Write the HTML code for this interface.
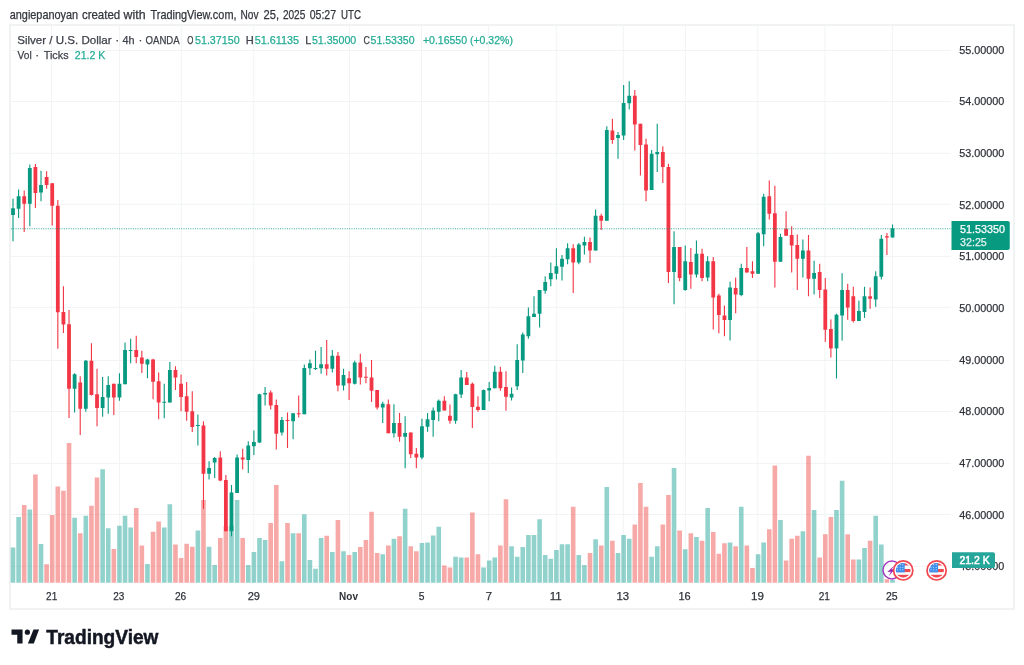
<!DOCTYPE html>
<html><head><meta charset="utf-8"><style>
html,body{margin:0;padding:0;background:#fff;}
body{width:1024px;height:665px;position:relative;overflow:hidden;font-family:"Liberation Sans", sans-serif;}
svg{position:absolute;left:0;top:0;will-change:transform;}
</style></head><body>
<svg width="1024" height="665" viewBox="0 0 1024 665">
<rect x="10" y="25" width="1004" height="584" fill="none" stroke="#f1f3f3" stroke-width="2"/>
<rect x="11" y="565.83" width="940" height="1" fill="#f1f3f4"/>
<rect x="11" y="514.00" width="940" height="1" fill="#f1f3f4"/>
<rect x="11" y="462.90" width="940" height="1" fill="#f1f3f4"/>
<rect x="11" y="411.02" width="940" height="1" fill="#f1f3f4"/>
<rect x="11" y="359.97" width="940" height="1" fill="#f1f3f4"/>
<rect x="11" y="306.90" width="940" height="1" fill="#f1f3f4"/>
<rect x="11" y="255.90" width="940" height="1" fill="#f1f3f4"/>
<rect x="11" y="203.80" width="940" height="1" fill="#f1f3f4"/>
<rect x="11" y="152.78" width="940" height="1" fill="#f1f3f4"/>
<rect x="11" y="100.94" width="940" height="1" fill="#f1f3f4"/>
<rect x="11" y="49.94" width="940" height="1" fill="#f1f3f4"/>
<rect x="51.0" y="26" width="1" height="557" fill="#f1f3f4"/>
<rect x="119.0" y="26" width="1" height="557" fill="#f1f3f4"/>
<rect x="180.8" y="26" width="1" height="557" fill="#f1f3f4"/>
<rect x="253.2" y="26" width="1" height="557" fill="#f1f3f4"/>
<rect x="349.0" y="26" width="1" height="557" fill="#f1f3f4"/>
<rect x="421.0" y="26" width="1" height="557" fill="#f1f3f4"/>
<rect x="488.1" y="26" width="1" height="557" fill="#f1f3f4"/>
<rect x="555.8" y="26" width="1" height="557" fill="#f1f3f4"/>
<rect x="622.8" y="26" width="1" height="557" fill="#f1f3f4"/>
<rect x="684.9" y="26" width="1" height="557" fill="#f1f3f4"/>
<rect x="757.3" y="26" width="1" height="557" fill="#f1f3f4"/>
<rect x="824.5" y="26" width="1" height="557" fill="#f1f3f4"/>
<rect x="891.9" y="26" width="1" height="557" fill="#f1f3f4"/>
<rect x="10.70" y="547.50" width="4.6" height="35.25" fill="rgba(38,166,154,0.5)"/>
<rect x="16.30" y="517.00" width="4.6" height="65.75" fill="rgba(38,166,154,0.5)"/>
<rect x="21.90" y="505.00" width="4.6" height="77.75" fill="rgba(239,83,80,0.5)"/>
<rect x="27.51" y="509.50" width="4.6" height="73.25" fill="rgba(38,166,154,0.5)"/>
<rect x="33.11" y="474.50" width="4.6" height="108.25" fill="rgba(239,83,80,0.5)"/>
<rect x="38.71" y="544.00" width="4.6" height="38.75" fill="rgba(38,166,154,0.5)"/>
<rect x="44.31" y="564.25" width="4.6" height="18.50" fill="rgba(239,83,80,0.5)"/>
<rect x="49.91" y="515.00" width="4.6" height="67.75" fill="rgba(239,83,80,0.5)"/>
<rect x="55.52" y="486.50" width="4.6" height="96.25" fill="rgba(239,83,80,0.5)"/>
<rect x="61.12" y="490.75" width="4.6" height="92.00" fill="rgba(239,83,80,0.5)"/>
<rect x="66.72" y="443.00" width="4.6" height="139.75" fill="rgba(239,83,80,0.5)"/>
<rect x="72.32" y="517.75" width="4.6" height="65.00" fill="rgba(38,166,154,0.5)"/>
<rect x="77.92" y="533.25" width="4.6" height="49.50" fill="rgba(239,83,80,0.5)"/>
<rect x="83.53" y="515.75" width="4.6" height="67.00" fill="rgba(38,166,154,0.5)"/>
<rect x="89.13" y="505.75" width="4.6" height="77.00" fill="rgba(239,83,80,0.5)"/>
<rect x="94.73" y="477.50" width="4.6" height="105.25" fill="rgba(239,83,80,0.5)"/>
<rect x="100.33" y="469.25" width="4.6" height="113.50" fill="rgba(38,166,154,0.5)"/>
<rect x="105.93" y="528.25" width="4.6" height="54.50" fill="rgba(38,166,154,0.5)"/>
<rect x="111.54" y="549.00" width="4.6" height="33.75" fill="rgba(239,83,80,0.5)"/>
<rect x="117.14" y="525.75" width="4.6" height="57.00" fill="rgba(38,166,154,0.5)"/>
<rect x="122.74" y="515.75" width="4.6" height="67.00" fill="rgba(38,166,154,0.5)"/>
<rect x="128.34" y="527.50" width="4.6" height="55.25" fill="rgba(38,166,154,0.5)"/>
<rect x="133.94" y="508.00" width="4.6" height="74.75" fill="rgba(239,83,80,0.5)"/>
<rect x="139.55" y="545.50" width="4.6" height="37.25" fill="rgba(239,83,80,0.5)"/>
<rect x="145.15" y="564.00" width="4.6" height="18.75" fill="rgba(38,166,154,0.5)"/>
<rect x="150.75" y="531.75" width="4.6" height="51.00" fill="rgba(239,83,80,0.5)"/>
<rect x="156.35" y="521.50" width="4.6" height="61.25" fill="rgba(239,83,80,0.5)"/>
<rect x="161.95" y="527.50" width="4.6" height="55.25" fill="rgba(38,166,154,0.5)"/>
<rect x="167.56" y="504.25" width="4.6" height="78.50" fill="rgba(38,166,154,0.5)"/>
<rect x="173.16" y="544.50" width="4.6" height="38.25" fill="rgba(239,83,80,0.5)"/>
<rect x="178.76" y="558.00" width="4.6" height="24.75" fill="rgba(239,83,80,0.5)"/>
<rect x="184.36" y="543.75" width="4.6" height="39.00" fill="rgba(239,83,80,0.5)"/>
<rect x="189.96" y="546.75" width="4.6" height="36.00" fill="rgba(239,83,80,0.5)"/>
<rect x="195.57" y="530.50" width="4.6" height="52.25" fill="rgba(38,166,154,0.5)"/>
<rect x="201.17" y="500.00" width="4.6" height="82.75" fill="rgba(239,83,80,0.5)"/>
<rect x="206.77" y="546.75" width="4.6" height="36.00" fill="rgba(38,166,154,0.5)"/>
<rect x="212.37" y="565.00" width="4.6" height="17.75" fill="rgba(38,166,154,0.5)"/>
<rect x="217.97" y="538.00" width="4.6" height="44.75" fill="rgba(239,83,80,0.5)"/>
<rect x="223.58" y="526.00" width="4.6" height="56.75" fill="rgba(239,83,80,0.5)"/>
<rect x="229.18" y="525.75" width="4.6" height="57.00" fill="rgba(38,166,154,0.5)"/>
<rect x="234.78" y="500.00" width="4.6" height="82.75" fill="rgba(38,166,154,0.5)"/>
<rect x="240.38" y="538.00" width="4.6" height="44.75" fill="rgba(239,83,80,0.5)"/>
<rect x="245.98" y="565.00" width="4.6" height="17.75" fill="rgba(38,166,154,0.5)"/>
<rect x="251.59" y="552.00" width="4.6" height="30.75" fill="rgba(38,166,154,0.5)"/>
<rect x="257.19" y="538.00" width="4.6" height="44.75" fill="rgba(38,166,154,0.5)"/>
<rect x="262.79" y="540.00" width="4.6" height="42.75" fill="rgba(38,166,154,0.5)"/>
<rect x="268.39" y="523.00" width="4.6" height="59.75" fill="rgba(239,83,80,0.5)"/>
<rect x="273.99" y="485.00" width="4.6" height="97.75" fill="rgba(239,83,80,0.5)"/>
<rect x="279.60" y="561.25" width="4.6" height="21.50" fill="rgba(38,166,154,0.5)"/>
<rect x="285.20" y="523.00" width="4.6" height="59.75" fill="rgba(239,83,80,0.5)"/>
<rect x="290.80" y="533.25" width="4.6" height="49.50" fill="rgba(38,166,154,0.5)"/>
<rect x="296.40" y="533.25" width="4.6" height="49.50" fill="rgba(239,83,80,0.5)"/>
<rect x="302.00" y="514.25" width="4.6" height="68.50" fill="rgba(38,166,154,0.5)"/>
<rect x="307.61" y="560.00" width="4.6" height="22.75" fill="rgba(38,166,154,0.5)"/>
<rect x="313.21" y="568.75" width="4.6" height="14.00" fill="rgba(38,166,154,0.5)"/>
<rect x="318.81" y="538.00" width="4.6" height="44.75" fill="rgba(38,166,154,0.5)"/>
<rect x="324.41" y="535.75" width="4.6" height="47.00" fill="rgba(239,83,80,0.5)"/>
<rect x="330.01" y="552.00" width="4.6" height="30.75" fill="rgba(38,166,154,0.5)"/>
<rect x="335.62" y="520.00" width="4.6" height="62.75" fill="rgba(239,83,80,0.5)"/>
<rect x="341.22" y="551.25" width="4.6" height="31.50" fill="rgba(38,166,154,0.5)"/>
<rect x="346.82" y="555.00" width="4.6" height="27.75" fill="rgba(239,83,80,0.5)"/>
<rect x="352.42" y="552.00" width="4.6" height="30.75" fill="rgba(38,166,154,0.5)"/>
<rect x="358.02" y="547.00" width="4.6" height="35.75" fill="rgba(239,83,80,0.5)"/>
<rect x="363.63" y="540.00" width="4.6" height="42.75" fill="rgba(239,83,80,0.5)"/>
<rect x="369.23" y="511.75" width="4.6" height="71.00" fill="rgba(239,83,80,0.5)"/>
<rect x="374.83" y="553.00" width="4.6" height="29.75" fill="rgba(239,83,80,0.5)"/>
<rect x="380.43" y="554.25" width="4.6" height="28.50" fill="rgba(38,166,154,0.5)"/>
<rect x="386.03" y="545.50" width="4.6" height="37.25" fill="rgba(239,83,80,0.5)"/>
<rect x="391.64" y="538.75" width="4.6" height="44.00" fill="rgba(38,166,154,0.5)"/>
<rect x="397.24" y="536.25" width="4.6" height="46.50" fill="rgba(239,83,80,0.5)"/>
<rect x="402.84" y="508.75" width="4.6" height="74.00" fill="rgba(38,166,154,0.5)"/>
<rect x="408.44" y="546.25" width="4.6" height="36.50" fill="rgba(239,83,80,0.5)"/>
<rect x="414.04" y="551.25" width="4.6" height="31.50" fill="rgba(239,83,80,0.5)"/>
<rect x="419.65" y="543.00" width="4.6" height="39.75" fill="rgba(38,166,154,0.5)"/>
<rect x="425.25" y="542.50" width="4.6" height="40.25" fill="rgba(38,166,154,0.5)"/>
<rect x="430.85" y="535.50" width="4.6" height="47.25" fill="rgba(38,166,154,0.5)"/>
<rect x="436.45" y="526.75" width="4.6" height="56.00" fill="rgba(38,166,154,0.5)"/>
<rect x="442.05" y="565.50" width="4.6" height="17.25" fill="rgba(239,83,80,0.5)"/>
<rect x="447.66" y="567.50" width="4.6" height="15.25" fill="rgba(239,83,80,0.5)"/>
<rect x="453.26" y="556.75" width="4.6" height="26.00" fill="rgba(38,166,154,0.5)"/>
<rect x="458.86" y="557.50" width="4.6" height="25.25" fill="rgba(38,166,154,0.5)"/>
<rect x="464.46" y="557.50" width="4.6" height="25.25" fill="rgba(239,83,80,0.5)"/>
<rect x="470.06" y="512.50" width="4.6" height="70.25" fill="rgba(239,83,80,0.5)"/>
<rect x="475.67" y="554.25" width="4.6" height="28.50" fill="rgba(239,83,80,0.5)"/>
<rect x="481.27" y="567.50" width="4.6" height="15.25" fill="rgba(38,166,154,0.5)"/>
<rect x="486.87" y="560.50" width="4.6" height="22.25" fill="rgba(38,166,154,0.5)"/>
<rect x="492.47" y="557.50" width="4.6" height="25.25" fill="rgba(38,166,154,0.5)"/>
<rect x="498.07" y="545.50" width="4.6" height="37.25" fill="rgba(239,83,80,0.5)"/>
<rect x="503.68" y="499.25" width="4.6" height="83.50" fill="rgba(239,83,80,0.5)"/>
<rect x="509.28" y="546.25" width="4.6" height="36.50" fill="rgba(38,166,154,0.5)"/>
<rect x="514.88" y="556.75" width="4.6" height="26.00" fill="rgba(38,166,154,0.5)"/>
<rect x="520.48" y="547.00" width="4.6" height="35.75" fill="rgba(38,166,154,0.5)"/>
<rect x="526.08" y="535.00" width="4.6" height="47.75" fill="rgba(38,166,154,0.5)"/>
<rect x="531.69" y="535.00" width="4.6" height="47.75" fill="rgba(38,166,154,0.5)"/>
<rect x="537.29" y="519.25" width="4.6" height="63.50" fill="rgba(38,166,154,0.5)"/>
<rect x="542.89" y="555.00" width="4.6" height="27.75" fill="rgba(38,166,154,0.5)"/>
<rect x="548.49" y="558.75" width="4.6" height="24.00" fill="rgba(38,166,154,0.5)"/>
<rect x="554.09" y="550.00" width="4.6" height="32.75" fill="rgba(38,166,154,0.5)"/>
<rect x="559.70" y="544.25" width="4.6" height="38.50" fill="rgba(38,166,154,0.5)"/>
<rect x="565.30" y="544.25" width="4.6" height="38.50" fill="rgba(38,166,154,0.5)"/>
<rect x="570.90" y="506.75" width="4.6" height="76.00" fill="rgba(239,83,80,0.5)"/>
<rect x="576.50" y="555.00" width="4.6" height="27.75" fill="rgba(38,166,154,0.5)"/>
<rect x="582.10" y="565.00" width="4.6" height="17.75" fill="rgba(38,166,154,0.5)"/>
<rect x="587.71" y="553.00" width="4.6" height="29.75" fill="rgba(239,83,80,0.5)"/>
<rect x="593.31" y="539.25" width="4.6" height="43.50" fill="rgba(38,166,154,0.5)"/>
<rect x="598.91" y="545.50" width="4.6" height="37.25" fill="rgba(239,83,80,0.5)"/>
<rect x="604.51" y="487.00" width="4.6" height="95.75" fill="rgba(38,166,154,0.5)"/>
<rect x="610.11" y="540.75" width="4.6" height="42.00" fill="rgba(239,83,80,0.5)"/>
<rect x="615.72" y="553.00" width="4.6" height="29.75" fill="rgba(38,166,154,0.5)"/>
<rect x="621.32" y="535.00" width="4.6" height="47.75" fill="rgba(38,166,154,0.5)"/>
<rect x="626.92" y="538.75" width="4.6" height="44.00" fill="rgba(38,166,154,0.5)"/>
<rect x="632.52" y="524.50" width="4.6" height="58.25" fill="rgba(239,83,80,0.5)"/>
<rect x="638.12" y="483.00" width="4.6" height="99.75" fill="rgba(239,83,80,0.5)"/>
<rect x="643.73" y="506.75" width="4.6" height="76.00" fill="rgba(239,83,80,0.5)"/>
<rect x="649.33" y="556.75" width="4.6" height="26.00" fill="rgba(38,166,154,0.5)"/>
<rect x="654.93" y="546.25" width="4.6" height="36.50" fill="rgba(38,166,154,0.5)"/>
<rect x="660.53" y="524.50" width="4.6" height="58.25" fill="rgba(239,83,80,0.5)"/>
<rect x="666.13" y="495.00" width="4.6" height="87.75" fill="rgba(239,83,80,0.5)"/>
<rect x="671.74" y="468.00" width="4.6" height="114.75" fill="rgba(38,166,154,0.5)"/>
<rect x="677.34" y="530.50" width="4.6" height="52.25" fill="rgba(239,83,80,0.5)"/>
<rect x="682.94" y="549.25" width="4.6" height="33.50" fill="rgba(38,166,154,0.5)"/>
<rect x="688.54" y="533.25" width="4.6" height="49.50" fill="rgba(239,83,80,0.5)"/>
<rect x="694.14" y="537.00" width="4.6" height="45.75" fill="rgba(38,166,154,0.5)"/>
<rect x="699.75" y="540.75" width="4.6" height="42.00" fill="rgba(239,83,80,0.5)"/>
<rect x="705.35" y="508.00" width="4.6" height="74.75" fill="rgba(38,166,154,0.5)"/>
<rect x="710.95" y="532.00" width="4.6" height="50.75" fill="rgba(239,83,80,0.5)"/>
<rect x="716.55" y="553.75" width="4.6" height="29.00" fill="rgba(239,83,80,0.5)"/>
<rect x="722.15" y="543.25" width="4.6" height="39.50" fill="rgba(239,83,80,0.5)"/>
<rect x="727.76" y="542.50" width="4.6" height="40.25" fill="rgba(38,166,154,0.5)"/>
<rect x="733.36" y="546.25" width="4.6" height="36.50" fill="rgba(239,83,80,0.5)"/>
<rect x="738.96" y="506.75" width="4.6" height="76.00" fill="rgba(38,166,154,0.5)"/>
<rect x="744.56" y="545.50" width="4.6" height="37.25" fill="rgba(239,83,80,0.5)"/>
<rect x="750.16" y="568.00" width="4.6" height="14.75" fill="rgba(239,83,80,0.5)"/>
<rect x="755.77" y="554.25" width="4.6" height="28.50" fill="rgba(38,166,154,0.5)"/>
<rect x="761.37" y="542.50" width="4.6" height="40.25" fill="rgba(38,166,154,0.5)"/>
<rect x="766.97" y="529.25" width="4.6" height="53.50" fill="rgba(239,83,80,0.5)"/>
<rect x="772.57" y="465.50" width="4.6" height="117.25" fill="rgba(239,83,80,0.5)"/>
<rect x="778.17" y="520.00" width="4.6" height="62.75" fill="rgba(38,166,154,0.5)"/>
<rect x="783.78" y="560.50" width="4.6" height="22.25" fill="rgba(239,83,80,0.5)"/>
<rect x="789.38" y="538.75" width="4.6" height="44.00" fill="rgba(239,83,80,0.5)"/>
<rect x="794.98" y="535.75" width="4.6" height="47.00" fill="rgba(239,83,80,0.5)"/>
<rect x="800.58" y="531.25" width="4.6" height="51.50" fill="rgba(38,166,154,0.5)"/>
<rect x="806.18" y="455.75" width="4.6" height="127.00" fill="rgba(239,83,80,0.5)"/>
<rect x="811.79" y="510.00" width="4.6" height="72.75" fill="rgba(38,166,154,0.5)"/>
<rect x="817.39" y="557.50" width="4.6" height="25.25" fill="rgba(239,83,80,0.5)"/>
<rect x="822.99" y="534.25" width="4.6" height="48.50" fill="rgba(239,83,80,0.5)"/>
<rect x="828.59" y="517.00" width="4.6" height="65.75" fill="rgba(239,83,80,0.5)"/>
<rect x="834.19" y="510.00" width="4.6" height="72.75" fill="rgba(38,166,154,0.5)"/>
<rect x="839.80" y="480.75" width="4.6" height="102.00" fill="rgba(38,166,154,0.5)"/>
<rect x="845.40" y="534.25" width="4.6" height="48.50" fill="rgba(239,83,80,0.5)"/>
<rect x="851.00" y="559.50" width="4.6" height="23.25" fill="rgba(239,83,80,0.5)"/>
<rect x="856.60" y="559.50" width="4.6" height="23.25" fill="rgba(38,166,154,0.5)"/>
<rect x="862.20" y="548.00" width="4.6" height="34.75" fill="rgba(38,166,154,0.5)"/>
<rect x="867.81" y="540.75" width="4.6" height="42.00" fill="rgba(239,83,80,0.5)"/>
<rect x="873.41" y="515.75" width="4.6" height="67.00" fill="rgba(38,166,154,0.5)"/>
<rect x="879.01" y="544.50" width="4.6" height="38.25" fill="rgba(38,166,154,0.5)"/>
<rect x="884.61" y="579.25" width="4.6" height="3.50" fill="rgba(239,83,80,0.5)"/>
<rect x="890.21" y="580.00" width="4.6" height="2.75" fill="rgba(38,166,154,0.5)"/>
<rect x="12.45" y="198.75" width="1.1" height="42.50" fill="#089981"/>
<rect x="11.10" y="208.25" width="3.8" height="6.75" fill="#089981"/>
<rect x="18.05" y="189.50" width="1.1" height="28.50" fill="#089981"/>
<rect x="16.70" y="196.25" width="3.8" height="12.50" fill="#089981"/>
<rect x="23.65" y="190.50" width="1.1" height="41.50" fill="#f23645"/>
<rect x="22.30" y="196.25" width="3.8" height="7.50" fill="#f23645"/>
<rect x="29.26" y="164.50" width="1.1" height="61.75" fill="#089981"/>
<rect x="27.91" y="168.00" width="3.8" height="35.75" fill="#089981"/>
<rect x="34.86" y="164.00" width="1.1" height="44.00" fill="#f23645"/>
<rect x="33.51" y="167.00" width="3.8" height="26.00" fill="#f23645"/>
<rect x="40.46" y="170.75" width="1.1" height="30.50" fill="#089981"/>
<rect x="39.11" y="185.00" width="3.8" height="7.50" fill="#089981"/>
<rect x="46.06" y="171.25" width="1.1" height="17.50" fill="#f23645"/>
<rect x="44.71" y="177.00" width="3.8" height="8.00" fill="#f23645"/>
<rect x="51.66" y="183.25" width="1.1" height="42.25" fill="#f23645"/>
<rect x="50.31" y="183.25" width="3.8" height="22.50" fill="#f23645"/>
<rect x="57.27" y="200.00" width="1.1" height="148.75" fill="#f23645"/>
<rect x="55.92" y="205.75" width="3.8" height="106.50" fill="#f23645"/>
<rect x="62.87" y="286.25" width="1.1" height="46.75" fill="#f23645"/>
<rect x="61.52" y="312.00" width="3.8" height="12.50" fill="#f23645"/>
<rect x="68.47" y="310.00" width="1.1" height="108.00" fill="#f23645"/>
<rect x="67.12" y="324.25" width="3.8" height="64.50" fill="#f23645"/>
<rect x="74.07" y="373.25" width="1.1" height="39.25" fill="#089981"/>
<rect x="72.72" y="374.25" width="3.8" height="14.50" fill="#089981"/>
<rect x="79.67" y="376.25" width="1.1" height="58.75" fill="#f23645"/>
<rect x="78.32" y="382.50" width="3.8" height="26.25" fill="#f23645"/>
<rect x="85.28" y="360.00" width="1.1" height="51.75" fill="#089981"/>
<rect x="83.93" y="360.75" width="3.8" height="48.00" fill="#089981"/>
<rect x="90.88" y="343.25" width="1.1" height="52.25" fill="#f23645"/>
<rect x="89.53" y="360.75" width="3.8" height="34.25" fill="#f23645"/>
<rect x="96.48" y="368.75" width="1.1" height="57.50" fill="#f23645"/>
<rect x="95.13" y="394.25" width="3.8" height="13.75" fill="#f23645"/>
<rect x="102.08" y="377.00" width="1.1" height="39.75" fill="#089981"/>
<rect x="100.73" y="397.00" width="3.8" height="11.00" fill="#089981"/>
<rect x="107.68" y="376.25" width="1.1" height="37.50" fill="#089981"/>
<rect x="106.33" y="385.00" width="3.8" height="12.50" fill="#089981"/>
<rect x="113.29" y="383.75" width="1.1" height="31.25" fill="#f23645"/>
<rect x="111.94" y="383.75" width="3.8" height="13.75" fill="#f23645"/>
<rect x="118.89" y="373.25" width="1.1" height="27.50" fill="#089981"/>
<rect x="117.54" y="383.75" width="3.8" height="13.75" fill="#089981"/>
<rect x="124.49" y="342.50" width="1.1" height="41.75" fill="#089981"/>
<rect x="123.14" y="350.00" width="3.8" height="34.25" fill="#089981"/>
<rect x="130.09" y="338.75" width="1.1" height="24.50" fill="#089981"/>
<rect x="128.74" y="350.00" width="3.8" height="1.00" fill="#089981"/>
<rect x="135.69" y="335.75" width="1.1" height="27.50" fill="#f23645"/>
<rect x="134.34" y="350.00" width="3.8" height="7.00" fill="#f23645"/>
<rect x="141.30" y="350.75" width="1.1" height="22.25" fill="#f23645"/>
<rect x="139.95" y="357.50" width="3.8" height="6.25" fill="#f23645"/>
<rect x="146.90" y="358.75" width="1.1" height="19.50" fill="#089981"/>
<rect x="145.55" y="359.50" width="3.8" height="5.00" fill="#089981"/>
<rect x="152.50" y="358.75" width="1.1" height="40.50" fill="#f23645"/>
<rect x="151.15" y="359.50" width="3.8" height="22.25" fill="#f23645"/>
<rect x="158.10" y="372.50" width="1.1" height="46.75" fill="#f23645"/>
<rect x="156.75" y="381.25" width="3.8" height="21.25" fill="#f23645"/>
<rect x="163.70" y="383.75" width="1.1" height="34.50" fill="#089981"/>
<rect x="162.35" y="401.75" width="3.8" height="1.00" fill="#089981"/>
<rect x="169.31" y="362.00" width="1.1" height="40.50" fill="#089981"/>
<rect x="167.96" y="370.00" width="3.8" height="32.50" fill="#089981"/>
<rect x="174.91" y="366.25" width="1.1" height="23.75" fill="#f23645"/>
<rect x="173.56" y="370.00" width="3.8" height="7.50" fill="#f23645"/>
<rect x="180.51" y="374.50" width="1.1" height="36.75" fill="#f23645"/>
<rect x="179.16" y="383.75" width="3.8" height="13.25" fill="#f23645"/>
<rect x="186.11" y="382.00" width="1.1" height="38.75" fill="#f23645"/>
<rect x="184.76" y="396.25" width="3.8" height="15.50" fill="#f23645"/>
<rect x="191.71" y="391.25" width="1.1" height="40.75" fill="#f23645"/>
<rect x="190.36" y="411.25" width="3.8" height="15.75" fill="#f23645"/>
<rect x="197.32" y="414.50" width="1.1" height="31.00" fill="#089981"/>
<rect x="195.97" y="425.00" width="3.8" height="1.00" fill="#089981"/>
<rect x="202.92" y="421.25" width="1.1" height="87.50" fill="#f23645"/>
<rect x="201.57" y="425.50" width="3.8" height="48.25" fill="#f23645"/>
<rect x="208.52" y="461.25" width="1.1" height="18.25" fill="#089981"/>
<rect x="207.17" y="468.00" width="3.8" height="5.75" fill="#089981"/>
<rect x="214.12" y="457.00" width="1.1" height="21.00" fill="#089981"/>
<rect x="212.77" y="458.00" width="3.8" height="4.50" fill="#089981"/>
<rect x="219.72" y="451.25" width="1.1" height="30.00" fill="#f23645"/>
<rect x="218.37" y="457.50" width="3.8" height="23.00" fill="#f23645"/>
<rect x="225.33" y="475.00" width="1.1" height="56.25" fill="#f23645"/>
<rect x="223.98" y="480.00" width="3.8" height="51.25" fill="#f23645"/>
<rect x="230.93" y="485.00" width="1.1" height="51.25" fill="#089981"/>
<rect x="229.58" y="492.50" width="3.8" height="38.75" fill="#089981"/>
<rect x="236.53" y="454.50" width="1.1" height="38.50" fill="#089981"/>
<rect x="235.18" y="457.50" width="3.8" height="35.50" fill="#089981"/>
<rect x="242.13" y="448.75" width="1.1" height="20.75" fill="#f23645"/>
<rect x="240.78" y="457.50" width="3.8" height="2.00" fill="#f23645"/>
<rect x="247.73" y="441.25" width="1.1" height="31.75" fill="#089981"/>
<rect x="246.38" y="445.50" width="3.8" height="14.50" fill="#089981"/>
<rect x="253.34" y="430.50" width="1.1" height="24.50" fill="#089981"/>
<rect x="251.99" y="442.00" width="3.8" height="4.25" fill="#089981"/>
<rect x="258.94" y="393.75" width="1.1" height="49.25" fill="#089981"/>
<rect x="257.59" y="394.25" width="3.8" height="48.25" fill="#089981"/>
<rect x="264.54" y="387.00" width="1.1" height="18.50" fill="#089981"/>
<rect x="263.19" y="393.00" width="3.8" height="1.50" fill="#089981"/>
<rect x="270.14" y="390.50" width="1.1" height="19.00" fill="#f23645"/>
<rect x="268.79" y="392.50" width="3.8" height="13.00" fill="#f23645"/>
<rect x="275.74" y="399.50" width="1.1" height="50.00" fill="#f23645"/>
<rect x="274.39" y="405.00" width="3.8" height="28.75" fill="#f23645"/>
<rect x="281.35" y="417.00" width="1.1" height="18.50" fill="#089981"/>
<rect x="280.00" y="420.00" width="3.8" height="12.50" fill="#089981"/>
<rect x="286.95" y="412.50" width="1.1" height="35.50" fill="#f23645"/>
<rect x="285.60" y="420.00" width="3.8" height="1.00" fill="#f23645"/>
<rect x="292.55" y="413.25" width="1.1" height="26.00" fill="#089981"/>
<rect x="291.20" y="413.25" width="3.8" height="8.00" fill="#089981"/>
<rect x="298.15" y="395.50" width="1.1" height="22.00" fill="#f23645"/>
<rect x="296.80" y="413.25" width="3.8" height="1.00" fill="#f23645"/>
<rect x="303.75" y="364.50" width="1.1" height="49.75" fill="#089981"/>
<rect x="302.40" y="368.00" width="3.8" height="46.25" fill="#089981"/>
<rect x="309.36" y="359.50" width="1.1" height="15.50" fill="#089981"/>
<rect x="308.01" y="363.25" width="3.8" height="5.00" fill="#089981"/>
<rect x="314.96" y="350.75" width="1.1" height="19.25" fill="#089981"/>
<rect x="313.61" y="368.00" width="3.8" height="1.00" fill="#089981"/>
<rect x="320.56" y="347.00" width="1.1" height="26.75" fill="#089981"/>
<rect x="319.21" y="364.25" width="3.8" height="4.00" fill="#089981"/>
<rect x="326.16" y="340.00" width="1.1" height="35.50" fill="#f23645"/>
<rect x="324.81" y="364.25" width="3.8" height="4.50" fill="#f23645"/>
<rect x="331.76" y="350.00" width="1.1" height="22.50" fill="#089981"/>
<rect x="330.41" y="355.75" width="3.8" height="13.00" fill="#089981"/>
<rect x="337.37" y="352.00" width="1.1" height="39.25" fill="#f23645"/>
<rect x="336.02" y="355.75" width="3.8" height="29.75" fill="#f23645"/>
<rect x="342.97" y="368.75" width="1.1" height="21.75" fill="#089981"/>
<rect x="341.62" y="375.00" width="3.8" height="10.50" fill="#089981"/>
<rect x="348.57" y="371.25" width="1.1" height="28.75" fill="#f23645"/>
<rect x="347.22" y="378.25" width="3.8" height="5.00" fill="#f23645"/>
<rect x="354.17" y="360.75" width="1.1" height="23.75" fill="#089981"/>
<rect x="352.82" y="362.50" width="3.8" height="21.25" fill="#089981"/>
<rect x="359.77" y="353.75" width="1.1" height="30.75" fill="#f23645"/>
<rect x="358.42" y="362.50" width="3.8" height="15.00" fill="#f23645"/>
<rect x="365.38" y="367.00" width="1.1" height="16.25" fill="#f23645"/>
<rect x="364.03" y="376.75" width="3.8" height="1.00" fill="#f23645"/>
<rect x="370.98" y="360.00" width="1.1" height="42.00" fill="#f23645"/>
<rect x="369.63" y="377.50" width="3.8" height="13.25" fill="#f23645"/>
<rect x="376.58" y="390.00" width="1.1" height="19.50" fill="#f23645"/>
<rect x="375.23" y="390.00" width="3.8" height="17.50" fill="#f23645"/>
<rect x="382.18" y="401.75" width="1.1" height="21.25" fill="#089981"/>
<rect x="380.83" y="403.75" width="3.8" height="3.75" fill="#089981"/>
<rect x="387.78" y="399.50" width="1.1" height="33.75" fill="#f23645"/>
<rect x="386.43" y="404.25" width="3.8" height="29.00" fill="#f23645"/>
<rect x="393.39" y="404.25" width="1.1" height="33.25" fill="#089981"/>
<rect x="392.04" y="423.00" width="3.8" height="10.25" fill="#089981"/>
<rect x="398.99" y="413.00" width="1.1" height="28.75" fill="#f23645"/>
<rect x="397.64" y="423.00" width="3.8" height="13.75" fill="#f23645"/>
<rect x="404.59" y="416.25" width="1.1" height="52.00" fill="#089981"/>
<rect x="403.24" y="433.00" width="3.8" height="3.75" fill="#089981"/>
<rect x="410.19" y="432.50" width="1.1" height="25.50" fill="#f23645"/>
<rect x="408.84" y="432.50" width="3.8" height="21.75" fill="#f23645"/>
<rect x="415.79" y="448.00" width="1.1" height="20.25" fill="#f23645"/>
<rect x="414.44" y="453.75" width="3.8" height="3.75" fill="#f23645"/>
<rect x="421.40" y="418.75" width="1.1" height="40.50" fill="#089981"/>
<rect x="420.05" y="426.25" width="3.8" height="31.25" fill="#089981"/>
<rect x="427.00" y="413.00" width="1.1" height="18.75" fill="#089981"/>
<rect x="425.65" y="419.25" width="3.8" height="7.50" fill="#089981"/>
<rect x="432.60" y="407.50" width="1.1" height="29.25" fill="#089981"/>
<rect x="431.25" y="410.50" width="3.8" height="9.50" fill="#089981"/>
<rect x="438.20" y="399.50" width="1.1" height="21.75" fill="#089981"/>
<rect x="436.85" y="400.75" width="3.8" height="11.00" fill="#089981"/>
<rect x="443.80" y="396.25" width="1.1" height="14.25" fill="#f23645"/>
<rect x="442.45" y="400.75" width="3.8" height="9.75" fill="#f23645"/>
<rect x="449.41" y="404.50" width="1.1" height="19.25" fill="#f23645"/>
<rect x="448.06" y="415.75" width="3.8" height="5.00" fill="#f23645"/>
<rect x="455.01" y="393.75" width="1.1" height="30.00" fill="#089981"/>
<rect x="453.66" y="394.25" width="3.8" height="26.50" fill="#089981"/>
<rect x="460.61" y="370.00" width="1.1" height="28.00" fill="#089981"/>
<rect x="459.26" y="377.50" width="3.8" height="17.00" fill="#089981"/>
<rect x="466.21" y="372.00" width="1.1" height="13.00" fill="#f23645"/>
<rect x="464.86" y="377.50" width="3.8" height="7.50" fill="#f23645"/>
<rect x="471.81" y="382.50" width="1.1" height="45.50" fill="#f23645"/>
<rect x="470.46" y="383.75" width="3.8" height="23.25" fill="#f23645"/>
<rect x="477.42" y="396.25" width="1.1" height="15.50" fill="#f23645"/>
<rect x="476.07" y="406.75" width="3.8" height="3.25" fill="#f23645"/>
<rect x="483.02" y="389.50" width="1.1" height="20.50" fill="#089981"/>
<rect x="481.67" y="390.00" width="3.8" height="20.00" fill="#089981"/>
<rect x="488.62" y="382.00" width="1.1" height="19.25" fill="#089981"/>
<rect x="487.27" y="388.00" width="3.8" height="2.50" fill="#089981"/>
<rect x="494.22" y="365.75" width="1.1" height="22.50" fill="#089981"/>
<rect x="492.87" y="371.75" width="3.8" height="16.50" fill="#089981"/>
<rect x="499.82" y="366.75" width="1.1" height="24.00" fill="#f23645"/>
<rect x="498.47" y="371.75" width="3.8" height="16.50" fill="#f23645"/>
<rect x="505.43" y="371.25" width="1.1" height="39.50" fill="#f23645"/>
<rect x="504.08" y="387.00" width="3.8" height="9.75" fill="#f23645"/>
<rect x="511.03" y="387.50" width="1.1" height="13.00" fill="#089981"/>
<rect x="509.68" y="393.75" width="3.8" height="3.75" fill="#089981"/>
<rect x="516.63" y="344.25" width="1.1" height="45.75" fill="#089981"/>
<rect x="515.28" y="360.00" width="3.8" height="26.25" fill="#089981"/>
<rect x="522.23" y="332.50" width="1.1" height="40.50" fill="#089981"/>
<rect x="520.88" y="334.50" width="3.8" height="26.00" fill="#089981"/>
<rect x="527.83" y="307.50" width="1.1" height="31.25" fill="#089981"/>
<rect x="526.48" y="316.25" width="3.8" height="20.00" fill="#089981"/>
<rect x="533.44" y="296.25" width="1.1" height="20.75" fill="#089981"/>
<rect x="532.09" y="313.75" width="3.8" height="3.25" fill="#089981"/>
<rect x="539.04" y="290.00" width="1.1" height="37.50" fill="#089981"/>
<rect x="537.69" y="290.00" width="3.8" height="23.75" fill="#089981"/>
<rect x="544.64" y="276.25" width="1.1" height="17.50" fill="#089981"/>
<rect x="543.29" y="282.00" width="3.8" height="8.75" fill="#089981"/>
<rect x="550.24" y="262.50" width="1.1" height="23.75" fill="#089981"/>
<rect x="548.89" y="273.00" width="3.8" height="6.25" fill="#089981"/>
<rect x="555.84" y="248.25" width="1.1" height="31.25" fill="#089981"/>
<rect x="554.49" y="266.25" width="3.8" height="7.50" fill="#089981"/>
<rect x="561.45" y="255.00" width="1.1" height="25.50" fill="#089981"/>
<rect x="560.10" y="258.75" width="3.8" height="8.00" fill="#089981"/>
<rect x="567.05" y="243.25" width="1.1" height="21.00" fill="#089981"/>
<rect x="565.70" y="248.25" width="3.8" height="11.00" fill="#089981"/>
<rect x="572.65" y="244.25" width="1.1" height="48.75" fill="#f23645"/>
<rect x="571.30" y="248.25" width="3.8" height="14.25" fill="#f23645"/>
<rect x="578.25" y="243.00" width="1.1" height="21.25" fill="#089981"/>
<rect x="576.90" y="244.50" width="3.8" height="18.00" fill="#089981"/>
<rect x="583.85" y="236.75" width="1.1" height="17.75" fill="#089981"/>
<rect x="582.50" y="242.00" width="3.8" height="3.50" fill="#089981"/>
<rect x="589.46" y="237.50" width="1.1" height="25.50" fill="#f23645"/>
<rect x="588.11" y="242.00" width="3.8" height="8.50" fill="#f23645"/>
<rect x="595.06" y="209.50" width="1.1" height="41.00" fill="#089981"/>
<rect x="593.71" y="215.75" width="3.8" height="34.75" fill="#089981"/>
<rect x="600.66" y="213.75" width="1.1" height="16.25" fill="#f23645"/>
<rect x="599.31" y="215.75" width="3.8" height="5.00" fill="#f23645"/>
<rect x="606.26" y="126.25" width="1.1" height="94.50" fill="#089981"/>
<rect x="604.91" y="130.00" width="3.8" height="90.75" fill="#089981"/>
<rect x="611.86" y="118.75" width="1.1" height="25.00" fill="#f23645"/>
<rect x="610.51" y="130.50" width="3.8" height="9.50" fill="#f23645"/>
<rect x="617.47" y="132.00" width="1.1" height="26.75" fill="#089981"/>
<rect x="616.12" y="135.00" width="3.8" height="3.00" fill="#089981"/>
<rect x="623.07" y="85.00" width="1.1" height="55.00" fill="#089981"/>
<rect x="621.72" y="103.00" width="3.8" height="32.50" fill="#089981"/>
<rect x="628.67" y="81.25" width="1.1" height="28.25" fill="#089981"/>
<rect x="627.32" y="95.75" width="3.8" height="7.50" fill="#089981"/>
<rect x="634.27" y="90.00" width="1.1" height="60.50" fill="#f23645"/>
<rect x="632.92" y="95.75" width="3.8" height="28.75" fill="#f23645"/>
<rect x="639.87" y="123.75" width="1.1" height="51.75" fill="#f23645"/>
<rect x="638.52" y="123.75" width="3.8" height="21.25" fill="#f23645"/>
<rect x="645.48" y="138.75" width="1.1" height="62.50" fill="#f23645"/>
<rect x="644.13" y="144.50" width="3.8" height="46.00" fill="#f23645"/>
<rect x="651.08" y="150.00" width="1.1" height="40.00" fill="#089981"/>
<rect x="649.73" y="153.75" width="3.8" height="36.25" fill="#089981"/>
<rect x="656.68" y="123.75" width="1.1" height="48.25" fill="#089981"/>
<rect x="655.33" y="152.00" width="3.8" height="2.25" fill="#089981"/>
<rect x="662.28" y="146.25" width="1.1" height="36.75" fill="#f23645"/>
<rect x="660.93" y="152.00" width="3.8" height="15.00" fill="#f23645"/>
<rect x="667.88" y="163.75" width="1.1" height="119.25" fill="#f23645"/>
<rect x="666.53" y="167.00" width="3.8" height="105.00" fill="#f23645"/>
<rect x="673.49" y="231.25" width="1.1" height="73.00" fill="#089981"/>
<rect x="672.14" y="247.00" width="3.8" height="25.00" fill="#089981"/>
<rect x="679.09" y="247.00" width="1.1" height="34.25" fill="#f23645"/>
<rect x="677.74" y="247.00" width="3.8" height="31.00" fill="#f23645"/>
<rect x="684.69" y="245.50" width="1.1" height="45.25" fill="#089981"/>
<rect x="683.34" y="261.25" width="3.8" height="28.75" fill="#089981"/>
<rect x="690.29" y="248.00" width="1.1" height="40.75" fill="#f23645"/>
<rect x="688.94" y="262.00" width="3.8" height="12.50" fill="#f23645"/>
<rect x="695.89" y="240.50" width="1.1" height="37.00" fill="#089981"/>
<rect x="694.54" y="253.75" width="3.8" height="20.75" fill="#089981"/>
<rect x="701.50" y="248.75" width="1.1" height="32.50" fill="#f23645"/>
<rect x="700.15" y="253.75" width="3.8" height="24.25" fill="#f23645"/>
<rect x="707.10" y="256.25" width="1.1" height="25.00" fill="#089981"/>
<rect x="705.75" y="261.25" width="3.8" height="16.25" fill="#089981"/>
<rect x="712.70" y="257.00" width="1.1" height="72.50" fill="#f23645"/>
<rect x="711.35" y="261.25" width="3.8" height="36.25" fill="#f23645"/>
<rect x="718.30" y="293.75" width="1.1" height="39.50" fill="#f23645"/>
<rect x="716.95" y="295.50" width="3.8" height="19.50" fill="#f23645"/>
<rect x="723.90" y="305.50" width="1.1" height="30.75" fill="#f23645"/>
<rect x="722.55" y="315.50" width="3.8" height="4.50" fill="#f23645"/>
<rect x="729.51" y="281.75" width="1.1" height="58.75" fill="#089981"/>
<rect x="728.16" y="287.50" width="3.8" height="32.50" fill="#089981"/>
<rect x="735.11" y="277.50" width="1.1" height="35.75" fill="#f23645"/>
<rect x="733.76" y="288.00" width="3.8" height="6.50" fill="#f23645"/>
<rect x="740.71" y="263.75" width="1.1" height="32.50" fill="#089981"/>
<rect x="739.36" y="268.00" width="3.8" height="27.00" fill="#089981"/>
<rect x="746.31" y="247.00" width="1.1" height="25.50" fill="#f23645"/>
<rect x="744.96" y="268.00" width="3.8" height="4.50" fill="#f23645"/>
<rect x="751.91" y="261.25" width="1.1" height="16.75" fill="#f23645"/>
<rect x="750.56" y="271.25" width="3.8" height="2.50" fill="#f23645"/>
<rect x="757.52" y="232.00" width="1.1" height="41.75" fill="#089981"/>
<rect x="756.17" y="233.25" width="3.8" height="40.50" fill="#089981"/>
<rect x="763.12" y="193.75" width="1.1" height="52.50" fill="#089981"/>
<rect x="761.77" y="196.75" width="3.8" height="37.50" fill="#089981"/>
<rect x="768.72" y="180.50" width="1.1" height="39.00" fill="#f23645"/>
<rect x="767.37" y="196.25" width="3.8" height="17.50" fill="#f23645"/>
<rect x="774.32" y="185.75" width="1.1" height="101.75" fill="#f23645"/>
<rect x="772.97" y="213.25" width="3.8" height="48.50" fill="#f23645"/>
<rect x="779.92" y="233.75" width="1.1" height="28.00" fill="#089981"/>
<rect x="778.57" y="237.00" width="3.8" height="24.75" fill="#089981"/>
<rect x="785.53" y="211.25" width="1.1" height="24.50" fill="#f23645"/>
<rect x="784.18" y="228.75" width="3.8" height="7.00" fill="#f23645"/>
<rect x="791.13" y="226.25" width="1.1" height="46.25" fill="#f23645"/>
<rect x="789.78" y="235.00" width="3.8" height="10.50" fill="#f23645"/>
<rect x="796.73" y="234.50" width="1.1" height="55.50" fill="#f23645"/>
<rect x="795.38" y="245.00" width="3.8" height="13.75" fill="#f23645"/>
<rect x="802.33" y="239.50" width="1.1" height="38.00" fill="#089981"/>
<rect x="800.98" y="250.50" width="3.8" height="8.25" fill="#089981"/>
<rect x="807.93" y="235.00" width="1.1" height="61.25" fill="#f23645"/>
<rect x="806.58" y="250.50" width="3.8" height="28.25" fill="#f23645"/>
<rect x="813.54" y="260.75" width="1.1" height="33.75" fill="#089981"/>
<rect x="812.19" y="273.00" width="3.8" height="5.75" fill="#089981"/>
<rect x="819.14" y="263.75" width="1.1" height="34.25" fill="#f23645"/>
<rect x="817.79" y="272.00" width="3.8" height="18.00" fill="#f23645"/>
<rect x="824.74" y="278.00" width="1.1" height="63.90" fill="#f23645"/>
<rect x="823.39" y="289.50" width="3.8" height="40.25" fill="#f23645"/>
<rect x="830.34" y="319.40" width="1.1" height="38.10" fill="#f23645"/>
<rect x="828.99" y="329.00" width="3.8" height="19.40" fill="#f23645"/>
<rect x="835.94" y="313.75" width="1.1" height="64.75" fill="#089981"/>
<rect x="834.59" y="314.75" width="3.8" height="33.65" fill="#089981"/>
<rect x="841.55" y="273.25" width="1.1" height="67.35" fill="#089981"/>
<rect x="840.20" y="290.00" width="3.8" height="25.50" fill="#089981"/>
<rect x="847.15" y="283.75" width="1.1" height="36.00" fill="#f23645"/>
<rect x="845.80" y="290.00" width="3.8" height="17.50" fill="#f23645"/>
<rect x="852.75" y="286.75" width="1.1" height="35.75" fill="#f23645"/>
<rect x="851.40" y="296.25" width="3.8" height="24.75" fill="#f23645"/>
<rect x="858.35" y="300.60" width="1.1" height="20.40" fill="#089981"/>
<rect x="857.00" y="311.00" width="3.8" height="10.00" fill="#089981"/>
<rect x="863.95" y="286.75" width="1.1" height="31.15" fill="#089981"/>
<rect x="862.60" y="296.25" width="3.8" height="15.75" fill="#089981"/>
<rect x="869.56" y="287.50" width="1.1" height="21.25" fill="#f23645"/>
<rect x="868.21" y="296.25" width="3.8" height="2.50" fill="#f23645"/>
<rect x="875.16" y="271.25" width="1.1" height="35.65" fill="#089981"/>
<rect x="873.81" y="276.25" width="3.8" height="23.25" fill="#089981"/>
<rect x="880.76" y="235.00" width="1.1" height="44.50" fill="#089981"/>
<rect x="879.41" y="238.75" width="3.8" height="38.00" fill="#089981"/>
<rect x="886.36" y="233.00" width="1.1" height="22.00" fill="#f23645"/>
<rect x="885.01" y="236.25" width="3.8" height="1.25" fill="#f23645"/>
<rect x="891.96" y="224.50" width="1.1" height="13.00" fill="#089981"/>
<rect x="890.61" y="228.25" width="3.8" height="9.25" fill="#089981"/>
<line x1="11" y1="228.75" x2="951" y2="228.75" stroke="#089981" stroke-width="1" stroke-dasharray="1 1.3" opacity="0.8"/>
<circle cx="891.9" cy="570" r="8.9" fill="#fff" stroke="#a33bbf" stroke-width="1.5"/>
<path d="M894.6 565.2 L887.3 572.0 L890.9 571.8 L888.7 576.2 L895.0 569.0 L891.6 569.3 Z" fill="#9c27b0"/>
<g><circle cx="903.2" cy="570.4" r="9.6" fill="#fff" stroke="#f2454f" stroke-width="1.7"/>
<clipPath id="c1"><circle cx="903.2" cy="570.4" r="7.3"/></clipPath>
<g clip-path="url(#c1)">
<rect x="895.2" y="563.2" width="16" height="2.3" fill="#f04a50"/><rect x="895.2" y="569" width="16" height="3.1" fill="#f04a50"/><rect x="895.2" y="574.8" width="16" height="3" fill="#f04a50"/>
<rect x="895.2" y="562.5" width="9.5" height="9.9" fill="#3f8fec"/><circle cx="897.60" cy="564.60" r="0.55" fill="#fff" fill-opacity="0.8"/><circle cx="897.60" cy="567.20" r="0.55" fill="#fff" fill-opacity="0.8"/><circle cx="897.60" cy="569.80" r="0.55" fill="#fff" fill-opacity="0.8"/><circle cx="900.20" cy="564.60" r="0.55" fill="#fff" fill-opacity="0.8"/><circle cx="900.20" cy="567.20" r="0.55" fill="#fff" fill-opacity="0.8"/><circle cx="900.20" cy="569.80" r="0.55" fill="#fff" fill-opacity="0.8"/><circle cx="902.80" cy="564.60" r="0.55" fill="#fff" fill-opacity="0.8"/><circle cx="902.80" cy="567.20" r="0.55" fill="#fff" fill-opacity="0.8"/><circle cx="902.80" cy="569.80" r="0.55" fill="#fff" fill-opacity="0.8"/></g></g>
<g><circle cx="936.6" cy="570.4" r="9.6" fill="#fff" stroke="#f2454f" stroke-width="1.7"/>
<clipPath id="c2"><circle cx="936.6" cy="570.4" r="7.3"/></clipPath>
<g clip-path="url(#c2)">
<rect x="928.6" y="563.2" width="16" height="2.3" fill="#f04a50"/><rect x="928.6" y="569" width="16" height="3.1" fill="#f04a50"/><rect x="928.6" y="574.8" width="16" height="3" fill="#f04a50"/>
<rect x="928.6" y="562.5" width="9.5" height="9.9" fill="#3f8fec"/><circle cx="931.00" cy="564.60" r="0.55" fill="#fff" fill-opacity="0.8"/><circle cx="931.00" cy="567.20" r="0.55" fill="#fff" fill-opacity="0.8"/><circle cx="931.00" cy="569.80" r="0.55" fill="#fff" fill-opacity="0.8"/><circle cx="933.60" cy="564.60" r="0.55" fill="#fff" fill-opacity="0.8"/><circle cx="933.60" cy="567.20" r="0.55" fill="#fff" fill-opacity="0.8"/><circle cx="933.60" cy="569.80" r="0.55" fill="#fff" fill-opacity="0.8"/><circle cx="936.20" cy="564.60" r="0.55" fill="#fff" fill-opacity="0.8"/><circle cx="936.20" cy="567.20" r="0.55" fill="#fff" fill-opacity="0.8"/><circle cx="936.20" cy="569.80" r="0.55" fill="#fff" fill-opacity="0.8"/></g></g>
<path d="M11.5 629.5 H22.55 V643.4 H17.25 V634.7 H11.5 Z" fill="#131722"/>
<circle cx="27.4" cy="632.2" r="2.6" fill="#131722"/>
<path d="M33.5 629.5 H39.1 L33.8 643.4 H27.9 Z" fill="#131722"/>
<text x="9.75" y="18.75" font-family="Liberation Sans" font-size="11.9" font-weight="400" fill="#33363d" stroke="#33363d" stroke-width="0.25" textLength="68.36" lengthAdjust="spacingAndGlyphs">angiepanoyan</text>
<text x="81.90" y="18.75" font-family="Liberation Sans" font-size="11.9" font-weight="400" fill="#33363d" stroke="#33363d" stroke-width="0.25" textLength="38.35" lengthAdjust="spacingAndGlyphs">created</text>
<text x="123.60" y="18.75" font-family="Liberation Sans" font-size="11.9" font-weight="400" fill="#33363d" stroke="#33363d" stroke-width="0.25" textLength="21.96" lengthAdjust="spacingAndGlyphs">with</text>
<text x="150.50" y="18.75" font-family="Liberation Sans" font-size="11.9" font-weight="400" fill="#33363d" stroke="#33363d" stroke-width="0.25" textLength="85.99" lengthAdjust="spacingAndGlyphs">TradingView.com,</text>
<text x="240.50" y="18.75" font-family="Liberation Sans" font-size="11.9" font-weight="400" fill="#33363d" stroke="#33363d" stroke-width="0.25" textLength="17.98" lengthAdjust="spacingAndGlyphs">Nov</text>
<text x="263.50" y="18.75" font-family="Liberation Sans" font-size="11.9" font-weight="400" fill="#33363d" stroke="#33363d" stroke-width="0.25" textLength="15.50" lengthAdjust="spacingAndGlyphs">25,</text>
<text x="282.90" y="18.75" font-family="Liberation Sans" font-size="11.9" font-weight="400" fill="#33363d" stroke="#33363d" stroke-width="0.25" textLength="22.39" lengthAdjust="spacingAndGlyphs">2025</text>
<text x="309.75" y="18.75" font-family="Liberation Sans" font-size="11.9" font-weight="400" fill="#33363d" stroke="#33363d" stroke-width="0.25" textLength="26.29" lengthAdjust="spacingAndGlyphs">05:27</text>
<text x="341.00" y="18.75" font-family="Liberation Sans" font-size="11.9" font-weight="400" fill="#33363d" stroke="#33363d" stroke-width="0.25" textLength="20.01" lengthAdjust="spacingAndGlyphs">UTC</text>
<text x="17.25" y="44.00" font-family="Liberation Sans" font-size="11.8" font-weight="400" fill="#3d4049" stroke="#3d4049" stroke-width="0.25" textLength="94.39" lengthAdjust="spacingAndGlyphs">Silver / U.S. Dollar</text>
<text x="115.20" y="44.00" font-family="Liberation Sans" font-size="11.8" font-weight="400" fill="#3d4049" stroke="#3d4049" stroke-width="0.25">·</text>
<text x="122.50" y="44.00" font-family="Liberation Sans" font-size="11.8" font-weight="400" fill="#3d4049" stroke="#3d4049" stroke-width="0.25" textLength="12.12" lengthAdjust="spacingAndGlyphs">4h</text>
<text x="138.40" y="44.00" font-family="Liberation Sans" font-size="11.8" font-weight="400" fill="#3d4049" stroke="#3d4049" stroke-width="0.25">·</text>
<text x="145.50" y="44.00" font-family="Liberation Sans" font-size="11.8" font-weight="400" fill="#3d4049" stroke="#3d4049" stroke-width="0.25" textLength="34.16" lengthAdjust="spacingAndGlyphs">OANDA</text>
<text x="187.20" y="44.00" font-family="Liberation Sans" font-size="11.8" font-weight="400" fill="#3d4049" stroke="#3d4049" stroke-width="0.25" textLength="6.14" lengthAdjust="spacingAndGlyphs">O</text>
<text x="195.00" y="44.00" font-family="Liberation Sans" font-size="11.8" font-weight="400" fill="#22ab94" stroke="#22ab94" stroke-width="0.25" textLength="44.60" lengthAdjust="spacingAndGlyphs">51.37150</text>
<text x="245.80" y="44.00" font-family="Liberation Sans" font-size="11.8" font-weight="400" fill="#3d4049" stroke="#3d4049" stroke-width="0.25" textLength="7.98" lengthAdjust="spacingAndGlyphs">H</text>
<text x="254.70" y="44.00" font-family="Liberation Sans" font-size="11.8" font-weight="400" fill="#22ab94" stroke="#22ab94" stroke-width="0.25" textLength="44.40" lengthAdjust="spacingAndGlyphs">51.61135</text>
<text x="305.25" y="44.00" font-family="Liberation Sans" font-size="11.8" font-weight="400" fill="#3d4049" stroke="#3d4049" stroke-width="0.25" textLength="5.98" lengthAdjust="spacingAndGlyphs">L</text>
<text x="311.90" y="44.00" font-family="Liberation Sans" font-size="11.8" font-weight="400" fill="#22ab94" stroke="#22ab94" stroke-width="0.25" textLength="44.40" lengthAdjust="spacingAndGlyphs">51.35000</text>
<text x="363.40" y="44.00" font-family="Liberation Sans" font-size="11.8" font-weight="400" fill="#3d4049" stroke="#3d4049" stroke-width="0.25" textLength="6.40" lengthAdjust="spacingAndGlyphs">C</text>
<text x="370.60" y="44.00" font-family="Liberation Sans" font-size="11.8" font-weight="400" fill="#22ab94" stroke="#22ab94" stroke-width="0.25" textLength="44.00" lengthAdjust="spacingAndGlyphs">51.53350</text>
<text x="422.90" y="44.00" font-family="Liberation Sans" font-size="11.8" font-weight="400" fill="#22ab94" stroke="#22ab94" stroke-width="0.25" textLength="90.01" lengthAdjust="spacingAndGlyphs">+0.16550 (+0.32%)</text>
<text x="17.50" y="59.25" font-family="Liberation Sans" font-size="11.8" font-weight="400" fill="#3d4049" stroke="#3d4049" stroke-width="0.25" textLength="14.17" lengthAdjust="spacingAndGlyphs">Vol</text>
<text x="35.30" y="59.25" font-family="Liberation Sans" font-size="11.8" font-weight="400" fill="#3d4049" stroke="#3d4049" stroke-width="0.25">·</text>
<text x="43.75" y="59.25" font-family="Liberation Sans" font-size="11.8" font-weight="400" fill="#3d4049" stroke="#3d4049" stroke-width="0.25" textLength="24.78" lengthAdjust="spacingAndGlyphs">Ticks</text>
<text x="74.75" y="59.25" font-family="Liberation Sans" font-size="11.8" font-weight="400" fill="#22ab94" stroke="#22ab94" stroke-width="0.25" textLength="30.60" lengthAdjust="spacingAndGlyphs">21.2 K</text>
<text x="959.20" y="570.20" font-family="Liberation Sans" font-size="11.8" font-weight="400" fill="#2f3239" stroke="#2f3239" stroke-width="0.25" textLength="45.20" lengthAdjust="spacingAndGlyphs">45.00000</text>
<text x="959.20" y="518.54" font-family="Liberation Sans" font-size="11.8" font-weight="400" fill="#2f3239" stroke="#2f3239" stroke-width="0.25" textLength="45.20" lengthAdjust="spacingAndGlyphs">46.00000</text>
<text x="959.20" y="466.88" font-family="Liberation Sans" font-size="11.8" font-weight="400" fill="#2f3239" stroke="#2f3239" stroke-width="0.25" textLength="45.20" lengthAdjust="spacingAndGlyphs">47.00000</text>
<text x="959.20" y="415.22" font-family="Liberation Sans" font-size="11.8" font-weight="400" fill="#2f3239" stroke="#2f3239" stroke-width="0.25" textLength="45.20" lengthAdjust="spacingAndGlyphs">48.00000</text>
<text x="959.20" y="363.56" font-family="Liberation Sans" font-size="11.8" font-weight="400" fill="#2f3239" stroke="#2f3239" stroke-width="0.25" textLength="45.20" lengthAdjust="spacingAndGlyphs">49.00000</text>
<text x="959.20" y="311.90" font-family="Liberation Sans" font-size="11.8" font-weight="400" fill="#2f3239" stroke="#2f3239" stroke-width="0.25" textLength="45.20" lengthAdjust="spacingAndGlyphs">50.00000</text>
<text x="959.20" y="260.24" font-family="Liberation Sans" font-size="11.8" font-weight="400" fill="#2f3239" stroke="#2f3239" stroke-width="0.25" textLength="45.20" lengthAdjust="spacingAndGlyphs">51.00000</text>
<text x="959.20" y="208.58" font-family="Liberation Sans" font-size="11.8" font-weight="400" fill="#2f3239" stroke="#2f3239" stroke-width="0.25" textLength="45.20" lengthAdjust="spacingAndGlyphs">52.00000</text>
<text x="959.20" y="156.92" font-family="Liberation Sans" font-size="11.8" font-weight="400" fill="#2f3239" stroke="#2f3239" stroke-width="0.25" textLength="45.20" lengthAdjust="spacingAndGlyphs">53.00000</text>
<text x="959.20" y="105.26" font-family="Liberation Sans" font-size="11.8" font-weight="400" fill="#2f3239" stroke="#2f3239" stroke-width="0.25" textLength="45.20" lengthAdjust="spacingAndGlyphs">54.00000</text>
<text x="959.20" y="53.60" font-family="Liberation Sans" font-size="11.8" font-weight="400" fill="#2f3239" stroke="#2f3239" stroke-width="0.25" textLength="45.20" lengthAdjust="spacingAndGlyphs">55.00000</text>
<text x="46.10" y="600.10" font-family="Liberation Sans" font-size="11.8" font-weight="400" fill="#2f3239" stroke="#2f3239" stroke-width="0.25" textLength="11.10" lengthAdjust="spacingAndGlyphs">21</text>
<text x="113.30" y="600.10" font-family="Liberation Sans" font-size="11.8" font-weight="400" fill="#2f3239" stroke="#2f3239" stroke-width="0.25" textLength="11.11" lengthAdjust="spacingAndGlyphs">23</text>
<text x="174.90" y="600.10" font-family="Liberation Sans" font-size="11.8" font-weight="400" fill="#2f3239" stroke="#2f3239" stroke-width="0.25" textLength="11.31" lengthAdjust="spacingAndGlyphs">26</text>
<text x="247.70" y="600.10" font-family="Liberation Sans" font-size="11.8" font-weight="400" fill="#2f3239" stroke="#2f3239" stroke-width="0.25" textLength="12.31" lengthAdjust="spacingAndGlyphs">29</text>
<text x="339.10" y="600.10" font-family="Liberation Sans" font-size="11.8" font-weight="700" fill="#2f3239" textLength="18.86" lengthAdjust="spacingAndGlyphs">Nov</text>
<text x="418.70" y="600.10" font-family="Liberation Sans" font-size="11.8" font-weight="400" fill="#2f3239" stroke="#2f3239" stroke-width="0.25" textLength="5.73" lengthAdjust="spacingAndGlyphs">5</text>
<text x="485.70" y="600.10" font-family="Liberation Sans" font-size="11.8" font-weight="400" fill="#2f3239" stroke="#2f3239" stroke-width="0.25" textLength="6.35" lengthAdjust="spacingAndGlyphs">7</text>
<text x="549.70" y="600.10" font-family="Liberation Sans" font-size="11.8" font-weight="400" fill="#2f3239" stroke="#2f3239" stroke-width="0.25" textLength="11.98" lengthAdjust="spacingAndGlyphs">11</text>
<text x="616.50" y="600.10" font-family="Liberation Sans" font-size="11.8" font-weight="400" fill="#2f3239" stroke="#2f3239" stroke-width="0.25" textLength="12.66" lengthAdjust="spacingAndGlyphs">13</text>
<text x="678.40" y="600.10" font-family="Liberation Sans" font-size="11.8" font-weight="400" fill="#2f3239" stroke="#2f3239" stroke-width="0.25" textLength="12.24" lengthAdjust="spacingAndGlyphs">16</text>
<text x="751.00" y="600.10" font-family="Liberation Sans" font-size="11.8" font-weight="400" fill="#2f3239" stroke="#2f3239" stroke-width="0.25" textLength="12.87" lengthAdjust="spacingAndGlyphs">19</text>
<text x="818.75" y="600.10" font-family="Liberation Sans" font-size="11.8" font-weight="400" fill="#2f3239" stroke="#2f3239" stroke-width="0.25" textLength="11.21" lengthAdjust="spacingAndGlyphs">21</text>
<text x="886.00" y="600.10" font-family="Liberation Sans" font-size="11.8" font-weight="400" fill="#2f3239" stroke="#2f3239" stroke-width="0.25" textLength="11.71" lengthAdjust="spacingAndGlyphs">25</text>
<path d="M951.5 221 H1007.75 Q1009.75 221 1009.75 223 V248 Q1009.75 250 1007.75 250 H951.5 Z" fill="#089981"/>
<path d="M952 552.2 H993 Q995 552.2 995 554.2 V565.9 Q995 567.9 993 567.9 H952 Z" fill="#26a69a"/>
<text x="960.00" y="233.20" font-family="Liberation Sans" font-size="11.5" font-weight="400" fill="#ffffff" stroke="#ffffff" stroke-width="0.25" textLength="44.97" lengthAdjust="spacingAndGlyphs">51.53350</text>
<text x="960.00" y="246.30" font-family="Liberation Sans" font-size="11.5" font-weight="400" fill="#ffffff" fill-opacity="0.85" stroke="#ffffff" stroke-width="0.25" stroke-opacity="0.85" textLength="26.80" lengthAdjust="spacingAndGlyphs">32:25</text>
<text x="959.50" y="564.00" font-family="Liberation Sans" font-size="11.8" font-weight="400" fill="#ffffff" stroke="#ffffff" stroke-width="0.55" textLength="30.10" lengthAdjust="spacingAndGlyphs">21.2 K</text>
<text x="46.30" y="643.60" font-family="Liberation Sans" font-size="20.4" font-weight="700" fill="#131722" stroke="#131722" stroke-width="0.5" textLength="112.17" lengthAdjust="spacingAndGlyphs">TradingView</text>
</svg>
</body></html>
